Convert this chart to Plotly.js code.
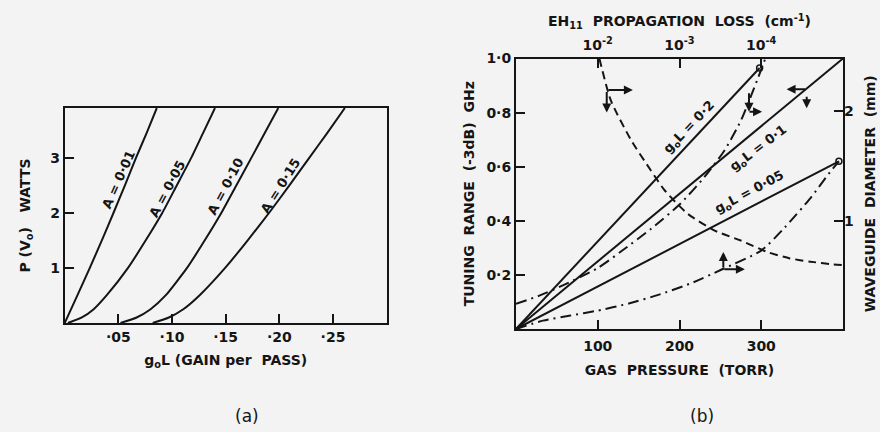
<!DOCTYPE html>
<html>
<head>
<meta charset="utf-8">
<script src="https://cdn.plot.ly/plotly-3.0.1.min.js"></script>
<style>
  html, body { margin: 0; padding: 0; background: #f3f3f3; }
  #chart { width: 880px; height: 432px; }
</style>
</head>
<body>
<div id="chart"></div>
<script>
// ---------- Panel (a): output power vs gain per pass ----------
const gainTicks = [0.05, 0.10, 0.15, 0.20, 0.25];
const gainTickText = ['·05', '·10', '·15', '·20', '·25'];
const powerTicks = [1, 2, 3];
const powerTickText = ['1', '2', '3'];

const lossLabels = ['A = 0·01', 'A = 0·05', 'A = 0·10', 'A = 0·15'];

const powerLevels = [0, 0.5, 1.0, 1.5, 2.0, 2.5, 3.0, 3.45, 3.9];
const gainA001 = [0, 0.0118, 0.0234, 0.0346, 0.0455, 0.0562, 0.0665, 0.0764, 0.0858];

const powerLevelsLow = [0, 0.1, 0.25, 0.5, 1.0, 1.5, 2.0, 2.5, 3.0, 3.45, 3.9];
const gainA005 = [0.003, 0.016, 0.027, 0.039, 0.059, 0.0755, 0.091, 0.1045, 0.118, 0.129, 0.140];
const gainA010 = [0.052, 0.067, 0.080, 0.094, 0.114, 0.1305, 0.146, 0.160, 0.174, 0.1865, 0.199];
const gainA015 = [0.082, 0.097, 0.1105, 0.1255, 0.1495, 0.1705, 0.1905, 0.2095, 0.228, 0.2447, 0.261];

// ---------- Panel (b): tuning range vs gas pressure ----------
const pressureTicks = [100, 200, 300];
const pressureTickText = ['100', '200', '300'];
const rangeTicks = [0.2, 0.4, 0.6, 0.8, 1.0];
const rangeTickText = ['0·2', '0·4', '0·6', '0·8', '1·0'];
const lossTicks = [1e-2, 1e-3, 1e-4];
const lossTickText = ['10<sup>-2</sup>', '10<sup>-3</sup>', '10<sup>-4</sup>'];
const diameterTicks = [1, 2];
const diameterTickText = ['1', '2'];

const gainLabels = ['g<sub>o</sub>L = 0·2', 'g<sub>o</sub>L = 0·1', 'g<sub>o</sub>L = 0·05'];

const pressGL02 = [0, 298];
const rangeGL02 = [0, 0.965];
const pressGL01 = [0, 400];
const rangeGL01 = [0, 1.0];
const pressGL005 = [0, 395];
const rangeGL005 = [0, 0.62];

const pressUpperDD = [0, 30, 60, 100, 130, 165, 200, 230, 255, 275, 295, 305];
const rangeUpperDD = [0.093, 0.125, 0.165, 0.225, 0.29, 0.37, 0.46, 0.56, 0.66, 0.77, 0.92, 1.0];

const pressLowerDD = [0, 33, 65, 100, 139, 174, 214, 251, 300, 329, 361, 384, 395];
const rangeLowerDD = [0, 0.031, 0.049, 0.068, 0.095, 0.126, 0.169, 0.219, 0.29, 0.376, 0.487, 0.58, 0.62];

const pressDashed = [102, 116, 141, 165, 182, 210, 243, 275, 308, 335, 360, 388, 400];
const rangeDashed = [1.0, 0.845, 0.697, 0.586, 0.512, 0.426, 0.364, 0.327, 0.284, 0.261, 0.249, 0.239, 0.236];

const endPress = [298, 395];
const endRange = [0.965, 0.62];

// ---------- styling ----------
const INK = '#151515';
const BG = '#f3f3f3';
const FONT = 'DejaVu Sans';
const lineW = 2;
const S = '\u00a0';

function solid(x, y, xa, ya) {
  return { x: x, y: y, xaxis: xa, yaxis: ya, mode: 'lines', type: 'scatter',
           line: { color: INK, width: lineW, shape: 'spline', smoothing: 0.5 }, hoverinfo: 'skip' };
}

const traces = [
  solid(gainA001, powerLevels, 'x', 'y'),
  solid(gainA005, powerLevelsLow, 'x', 'y'),
  solid(gainA010, powerLevelsLow, 'x', 'y'),
  solid(gainA015, powerLevelsLow, 'x', 'y'),
  solid(pressGL02, rangeGL02, 'x2', 'y2'),
  solid(pressGL01, rangeGL01, 'x2', 'y2'),
  solid(pressGL005, rangeGL005, 'x2', 'y2'),
  { x: pressUpperDD, y: rangeUpperDD, xaxis: 'x2', yaxis: 'y2', mode: 'lines', type: 'scatter',
    line: { color: INK, width: lineW, dash: '11px,5px,2px,5px', shape: 'spline', smoothing: 0.6 }, hoverinfo: 'skip' },
  { x: pressLowerDD, y: rangeLowerDD, xaxis: 'x2', yaxis: 'y2', mode: 'lines', type: 'scatter',
    line: { color: INK, width: lineW, dash: '11px,5px,2px,5px', shape: 'spline', smoothing: 0.6 }, hoverinfo: 'skip' },
  { x: pressDashed, y: rangeDashed, xaxis: 'x2', yaxis: 'y2', mode: 'lines', type: 'scatter',
    line: { color: INK, width: lineW, dash: '8px,5px', shape: 'spline', smoothing: 0.6 }, hoverinfo: 'skip' },
  { x: endPress, y: endRange, xaxis: 'x2', yaxis: 'y2', mode: 'markers', type: 'scatter',
    marker: { symbol: 'circle-open', size: 6, color: INK, line: { width: 1.5, color: INK } }, hoverinfo: 'skip' },
  // carrier for the top (loss) and right (diameter) axes
  { x: [], y: [], xaxis: 'x3', yaxis: 'y3', mode: 'lines', type: 'scatter', hoverinfo: 'skip' }
];

const tickFont = { family: FONT, size: 14, color: INK, weight: 'bold' };
const titleFont = { family: FONT, size: 14, color: INK, weight: 'bold' };

const boxAxis = {
  showline: true, linecolor: INK, linewidth: 2, mirror: true,
  ticks: 'inside', ticklen: 9, tickwidth: 2, tickcolor: INK,
  showgrid: false, zeroline: false, tickfont: tickFont, fixedrange: true
};

function label(text, x, y, xref, yref, angle) {
  return { text: text, x: x, y: y, xref: xref, yref: yref, showarrow: false,
           textangle: angle, font: { family: FONT, size: 13, color: INK, weight: 'bold' },
           xanchor: 'center', yanchor: 'middle' };
}
function arrow(x, y, ax, ay) {
  return { x: x, y: y, xref: 'x2', yref: 'y2', ax: ax, ay: ay, text: '', showarrow: true,
           arrowhead: 2, arrowsize: 0.9, arrowwidth: 2, arrowcolor: INK };
}
function caption(text, px, py) {
  return { text: text, x: px / 880, y: 1 - py / 432, xref: 'paper', yref: 'paper', showarrow: false,
           font: { family: FONT, size: 17, color: INK }, xanchor: 'center', yanchor: 'middle' };
}

const annotations = [
  label(lossLabels[0], 0.050, 2.61, 'x', 'y', -66),
  label(lossLabels[1], 0.095, 2.43, 'x', 'y', -62),
  label(lossLabels[2], 0.150, 2.47, 'x', 'y', -62),
  label(lossLabels[3], 0.201, 2.5, 'x', 'y', -58),
  label(gainLabels[0], 212, 0.745, 'x2', 'y2', -46),
  label(gainLabels[1], 297, 0.668, 'x2', 'y2', -37),
  label(gainLabels[2], 286, 0.503, 'x2', 'y2', -28),
  caption('(a)', 247, 416),
  caption('(b)', 702, 416),
  arrow(143, 0.884, -26, 0),
  arrow(111, 0.80, 0, -22),
  arrow(285, 0.803, 0, -20),
  arrow(301, 0.803, -14, 0),
  arrow(331, 0.886, 20, 0),
  arrow(355.6, 0.816, 0, -13),
  arrow(253.6, 0.285, 0, 17),
  arrow(280, 0.221, -22, 0)
];

const layout = {
  width: 880, height: 432,
  margin: { l: 0, r: 0, t: 0, b: 0 },
  paper_bgcolor: BG, plot_bgcolor: BG,
  showlegend: false,
  xaxis: Object.assign({}, boxAxis, {
    domain: [64.7 / 880, 386.7 / 880], range: [0, 0.30], anchor: 'y',
    tickvals: gainTicks, ticktext: gainTickText,
    title: { text: 'g<sub>o</sub>L' + S + '(GAIN' + S + 'per' + S + S + 'PASS)', font: titleFont, standoff: 11 }
  }),
  yaxis: Object.assign({}, boxAxis, {
    domain: [1 - 323 / 432, 1 - 108 / 432], range: [0, 3.9], anchor: 'x',
    tickvals: powerTicks, ticktext: powerTickText,
    title: { text: 'P' + S + '(V<sub>o</sub>)' + S + S + S + 'WATTS', font: titleFont, standoff: 16 }
  }),
  xaxis2: Object.assign({}, boxAxis, {
    domain: [516 / 880, 843 / 880], range: [0, 400], anchor: 'y2',
    tickvals: pressureTicks, ticktext: pressureTickText, ticklabelstandoff: 3,
    title: { text: 'GAS' + S + S + 'PRESSURE' + S + S + '(TORR)', font: titleFont, standoff: 12 }
  }),
  yaxis2: Object.assign({}, boxAxis, {
    domain: [1 - 329 / 432, 1 - 58.5 / 432], range: [0, 1.0], anchor: 'x2',
    tickvals: rangeTicks, ticktext: rangeTickText,
    title: { text: 'TUNING' + S + S + 'RANGE' + S + S + '(-3dB)' + S + S + 'GHz', font: titleFont, standoff: 8 }
  }),
  xaxis3: {
    overlaying: 'x2', anchor: 'y2', side: 'top', type: 'log', range: [-1, -5],
    tickvals: lossTicks, ticktext: lossTickText, ticklabelstandoff: 5,
    ticks: 'inside', ticklen: 9, tickwidth: 2, tickcolor: INK,
    showline: false, showgrid: false, zeroline: false, tickfont: tickFont, fixedrange: true,
    title: { text: 'EH<sub>11</sub>' + S + S + 'PROPAGATION' + S + S + 'LOSS' + S + S + '(cm<sup>-1</sup>)', font: titleFont, standoff: 4 }
  },
  yaxis3: {
    overlaying: 'y2', anchor: 'x2', side: 'right', range: [0.03, 2.47],
    tickvals: diameterTicks, ticktext: diameterTickText,
    ticks: 'inside', ticklen: 9, tickwidth: 2, tickcolor: INK,
    showline: false, showgrid: false, zeroline: false, tickfont: tickFont, fixedrange: true,
    title: { text: 'WAVEGUIDE' + S + S + 'DIAMETER' + S + S + '(mm)', font: titleFont, standoff: 12 }
  },
  annotations: annotations
};

Plotly.newPlot('chart', traces, layout, { staticPlot: true, displayModeBar: false });
</script>
</body>
</html>
